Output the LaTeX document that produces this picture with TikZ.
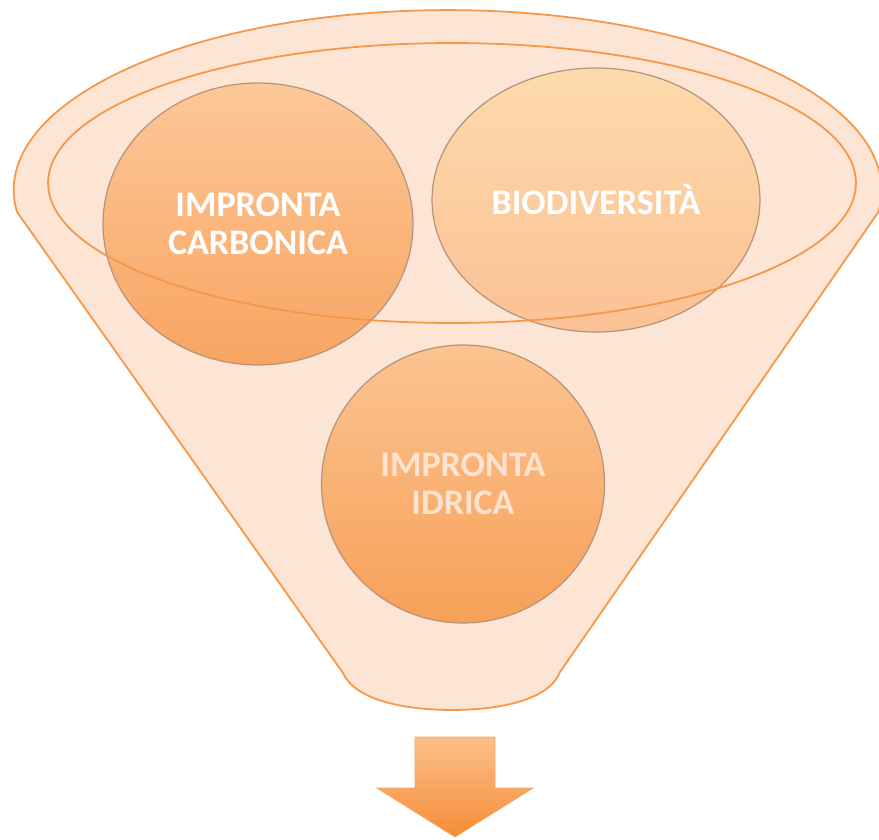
\documentclass[tikz,border=0pt]{standalone}
\usepackage{fontspec}
\setmainfont{Carlito}
\usetikzlibrary{shapes.geometric}
\definecolor{arancio}{RGB}{247,150,70}
\definecolor{pesca}{RGB}{252,229,212}
\definecolor{bordo}{RGB}{165,120,90}
\definecolor{chiaro}{RGB}{253,226,208}

\tikzset{
  bolla/.style={ellipse, inner sep=0pt, draw=bordo!80, line width=0.7pt, align=center,
    text=white, font=\bfseries\fontsize{20.5}{21.6}\selectfont},
}

\begin{document}
\begin{tikzpicture}[x=0.02cm,y=0.02cm]
\useasboundingbox (0,0) rectangle (879,839);

% imbuto
\draw [arancio, line width=1pt, fill=pesca] (17,627) arc[start angle=187, end angle=-7, x radius=8.68cm, y radius=3.6cm]
  -- (560,167) .. controls (549,139) and (500,129) .. (452,129) .. controls (404,129) and (355,139) .. (343,166) -- cycle;

\node [bolla, minimum width=6.2cm, minimum height=5.64cm, top color={rgb,255:red,252;green,200;blue,152}, bottom color={rgb,255:red,248;green,164;blue,98}] (carb) at (258,615) {IMPRONTA\\CARBONICA};
\node [bolla, minimum width=6.56cm, minimum height=5.28cm, top color={rgb,255:red,253;green,218;blue,172}, bottom color={rgb,255:red,251;green,193;blue,148}] (bio) at (596,639) {BIODIVERSITÀ};
\node [bolla, text=chiaro, minimum width=5.66cm, minimum height=5.56cm, top color={rgb,255:red,251;green,196;blue,145}, bottom color={rgb,255:red,247;green,160;blue,88}] (idr) at (463,355) {IMPRONTA\\IDRICA};

\draw [arancio, line width=1pt] (452,656) ellipse [x radius=8.08cm, y radius=2.8cm];

% freccia
\draw [draw={rgb,255:red,240;green,170;blue,110}, line width=0.5pt, top color={rgb,255:red,251;green,192;blue,138}, bottom color={rgb,255:red,246;green,140;blue,55}]
  (415,102) -- (495,102) -- (495,51) -- (533,51) -- (455,2) -- (377,51) -- (415,51) -- cycle;

\end{tikzpicture}
\end{document}
